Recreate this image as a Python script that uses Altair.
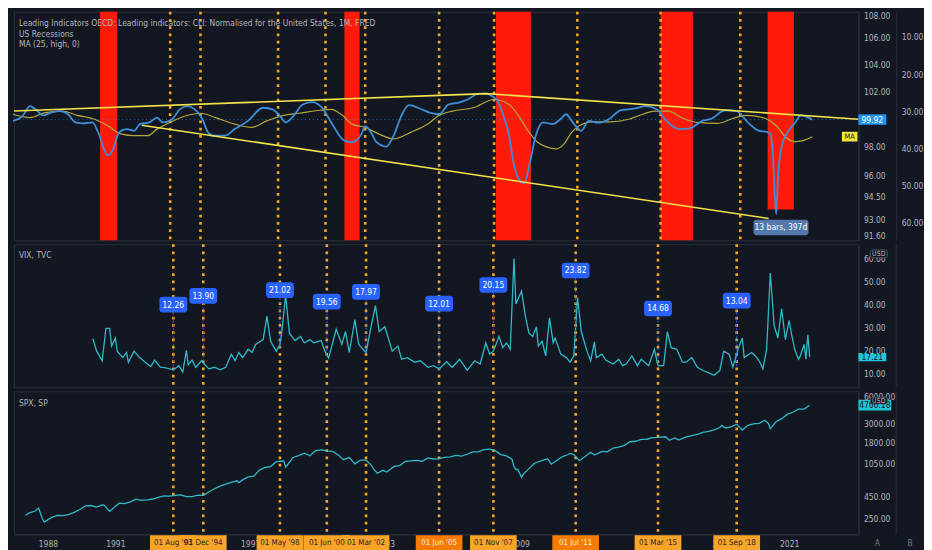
import altair as alt
import pandas as pd

FONT = "Liberation Sans Narrow, DejaVu Sans Condensed, Liberation Sans, sans-serif"
BG = "#131722"
TXT = "#b2b5be"
GRID = "#2a2e39"
RED = "#ff1a0a"
ORANGE = "#f5a623"
BLUE = "#3d8fd9"
MA_C = "#b3a73c"
YEL = "#f2e34b"
TEAL = "#2fb9c8"
LBL = "#2962ff"
CYAN = "#22c4d8"
FS = 8.5

W = 850
H1, H2, H3 = 230, 144, 144

# ---- values ----
cli_dates = ["1986-09", "1987-02", "1987-06", "1987-09", "1988-01", "1988-05", "1988-10", "1989-02",
             "1989-06", "1989-10", "1990-03", "1990-06", "1990-11", "1991-02", "1991-05", "1991-09",
             "1992-01", "1992-04", "1992-09", "1993-01", "1993-04", "1993-09", "1994-01", "1994-05",
             "1994-09", "1995-01", "1995-04", "1995-07", "1996-01", "1996-06", "1997-01", "1997-09",
             "1998-02", "1998-06", "1998-09", "1999-01", "1999-06", "1999-11", "2000-04", "2000-09",
             "2001-02", "2001-04", "2001-08", "2002-01", "2002-03", "2002-06", "2002-09", "2003-02",
             "2003-06", "2003-10", "2004-02", "2004-08", "2005-01", "2005-06", "2005-11", "2006-04",
             "2006-09", "2007-03", "2007-07", "2007-10", "2008-01", "2008-04", "2008-07", "2008-09",
             "2009-01", "2009-03", "2009-06", "2009-09", "2010-01", "2010-06", "2010-10", "2011-01",
             "2011-04", "2011-06", "2011-09", "2012-01", "2012-06", "2012-11", "2013-06", "2014-01",
             "2014-07", "2015-01", "2015-06", "2016-01", "2016-06", "2017-01", "2017-06", "2018-01",
             "2018-07", "2019-01", "2019-07", "2019-11", "2020-01", "2020-02", "2020-04", "2020-05",
             "2020-07", "2020-10", "2021-02", "2021-05", "2021-09", "2021-11"]
cli_vals = [99.83, 100.18, 100.90, 100.66, 100.23, 100.43, 100.54, 100.31,
            99.72, 99.65, 99.72, 99.01, 97.38, 97.84, 99.01, 99.24,
            99.12, 99.60, 99.72, 100.07, 99.72, 99.95, 100.66, 100.90,
            100.66, 99.95, 99.01, 98.77, 98.77, 99.24, 99.83, 100.78,
            100.66, 100.18, 99.72, 100.18, 101.02, 101.19, 100.80, 99.72,
            98.66, 98.42, 98.31, 98.90, 99.45, 99.01, 98.31, 98.00,
            98.77, 100.18, 100.97, 100.71, 100.43, 100.31, 101.02, 101.14,
            101.38, 101.81, 101.81, 101.62, 101.26, 100.18, 98.77, 97.03,
            95.57, 95.45, 96.92, 98.77, 99.72, 99.60, 99.95, 100.31,
            99.83, 99.48, 99.12, 99.83, 99.70, 99.90, 100.60, 100.71,
            100.90, 100.66, 99.83, 99.24, 99.29, 99.83, 100.00, 100.60,
            100.55, 99.72, 99.12, 99.05, 98.90, 97.84, 93.33, 96.02,
            98.07, 99.01, 99.72, 100.23, 100.07, 99.92]

ma_dates = ["1986-09", "1987-06", "1988-02", "1988-11", "1989-07", "1990-04", "1990-11", "1991-06",
            "1992-01", "1992-08", "1993-01", "1993-08", "1994-04", "1994-12", "1995-08", "1996-06",
            "1997-03", "1997-11", "1998-08", "1999-04", "2000-03", "2000-09", "2001-03", "2001-08",
            "2002-03", "2002-10", "2003-06", "2004-03", "2004-12", "2005-06", "2006-01", "2006-12",
            "2007-11", "2008-07", "2008-12", "2009-05", "2009-10", "2010-03", "2010-08", "2010-12",
            "2011-04", "2011-08", "2012-03", "2012-12", "2013-10", "2014-03", "2014-12", "2015-07",
            "2016-03", "2016-10", "2017-09", "2018-05", "2018-12", "2019-09", "2020-04", "2020-09",
            "2021-02", "2021-06", "2021-11"]
ma_vals = [100.31, 100.07, 100.43, 100.54, 100.23, 99.95, 99.48, 98.90,
           98.77, 98.77, 99.24, 99.72, 100.18, 100.38, 100.07, 99.60,
           99.36, 99.83, 100.23, 100.38, 100.60, 100.66, 100.23, 99.60,
           99.36, 98.90, 98.54, 99.01, 99.60, 100.23, 100.54, 100.78,
           101.38, 101.02, 100.18, 99.12, 98.31, 97.96, 97.84, 98.19,
           99.01, 99.48, 99.76, 99.76, 99.95, 100.18, 100.54, 100.54,
           100.00, 99.72, 99.65, 100.00, 100.23, 100.07, 99.48, 98.66,
           98.35, 98.42, 98.70]

vix_dates = ["1990-01", "1990-03", "1990-06", "1990-08", "1990-10", "1990-11", "1991-01", "1991-02",
             "1991-05", "1991-07", "1991-08", "1991-11", "1992-02", "1992-05", "1992-08", "1992-10",
             "1993-01", "1993-04", "1993-08", "1993-11", "1994-01", "1994-03", "1994-04", "1994-06",
             "1994-08", "1994-11", "1995-03", "1995-06", "1995-09", "1995-12", "1996-03", "1996-05",
             "1996-07", "1996-09", "1996-12", "1997-02", "1997-04", "1997-08", "1997-10", "1997-12",
             "1998-03", "1998-05", "1998-06", "1998-08", "1998-10", "1999-01", "1999-04", "1999-06",
             "1999-09", "1999-11", "2000-03", "2000-05", "2000-07", "2000-11", "2001-02", "2001-04",
             "2001-06", "2001-09", "2001-11", "2002-03", "2002-06", "2002-08", "2002-10", "2003-01",
             "2003-05", "2003-08", "2003-10", "2004-01", "2004-05", "2004-08", "2004-12", "2005-03",
             "2005-06", "2005-10", "2006-01", "2006-05", "2006-09", "2007-01", "2007-04", "2007-07",
             "2007-09", "2007-11", "2008-02", "2008-04", "2008-06", "2008-08", "2008-10", "2008-11",
             "2009-02", "2009-04", "2009-06", "2009-08", "2009-10", "2009-11", "2010-01", "2010-03",
             "2010-05", "2010-07", "2010-08", "2010-11", "2011-02", "2011-04", "2011-06", "2011-08",
             "2011-10", "2012-01", "2012-03", "2012-05", "2012-06", "2012-09", "2012-11", "2013-03",
             "2013-06", "2013-08", "2013-10", "2014-01", "2014-04", "2014-06", "2014-10", "2015-01",
             "2015-03", "2015-06", "2015-08", "2015-10", "2016-01", "2016-04", "2016-06", "2016-09",
             "2016-12", "2017-03", "2017-07", "2017-09", "2017-12", "2018-02", "2018-05", "2018-07",
             "2018-10", "2018-12", "2019-01", "2019-05", "2019-07", "2019-09", "2019-11", "2020-01",
             "2020-03", "2020-05", "2020-07", "2020-09", "2020-11", "2021-01", "2021-02", "2021-04",
             "2021-06", "2021-07", "2021-09", "2021-10", "2021-11", "2021-12"]
vix_vals = [25.2, 19.9, 15.6, 29.7, 29.7, 22.0, 25.5, 19.8,
            17.0, 19.2, 15.0, 19.8, 17.0, 15.0, 13.1, 15.9,
            12.8, 12.5, 11.7, 13.5, 10.7, 20.1, 13.9, 15.9,
            12.8, 15.6, 12.1, 12.8, 11.7, 12.8, 18.5, 15.6,
            19.2, 17.0, 20.6, 19.2, 22.7, 24.8, 35.0, 24.1,
            19.8, 22.7, 28.3, 44.1, 27.6, 24.4, 26.2, 23.4,
            24.8, 23.4, 24.4, 19.8, 16.8, 29.3, 22.7, 28.3,
            19.2, 33.5, 22.7, 19.2, 31.9, 39.6, 28.3, 30.4,
            19.8, 22.0, 16.3, 17.0, 15.0, 15.6, 12.8, 13.5,
            12.1, 15.2, 12.8, 16.3, 11.4, 15.6, 14.2, 23.4,
            18.5, 19.8, 26.2, 21.3, 23.4, 20.6, 60.0, 40.3,
            45.9, 35.4, 27.6, 26.2, 30.4, 22.0, 24.1, 17.7,
            34.2, 23.4, 25.5, 18.5, 17.0, 15.0, 17.7, 43.1,
            28.3, 19.8, 15.6, 23.8, 17.0, 18.5, 15.9, 14.2,
            16.3, 13.5, 14.2, 17.7, 13.5, 16.3, 13.5, 20.6,
            13.5, 13.5, 28.3, 21.3, 20.6, 15.0, 15.0, 17.0,
            12.8, 11.4, 10.0, 9.3, 11.4, 19.8, 18.5, 12.8,
            21.3, 25.5, 17.0, 19.2, 17.7, 15.6, 12.1, 20.6,
            53.7, 31.1, 25.5, 38.2, 24.8, 33.2, 28.3, 20.6,
            16.3, 17.7, 22.7, 16.3, 26.9, 17.2]

spx_dates = ["1987-01", "1987-03", "1987-06", "1987-08", "1987-10", "1987-11", "1988-03", "1988-06",
             "1988-09", "1988-12", "1989-03", "1989-06", "1989-09", "1989-12", "1990-03", "1990-06",
             "1990-07", "1990-10", "1990-12", "1991-03", "1991-06", "1991-09", "1991-12", "1992-03",
             "1992-06", "1992-09", "1992-12", "1993-03", "1993-06", "1993-09", "1993-12", "1994-03",
             "1994-06", "1994-09", "1994-12", "1995-03", "1995-06", "1995-09", "1995-12", "1996-03",
             "1996-06", "1996-07", "1996-09", "1996-12", "1997-03", "1997-06", "1997-09", "1997-12",
             "1998-03", "1998-07", "1998-08", "1998-09", "1998-12", "1999-03", "1999-06", "1999-09",
             "1999-12", "2000-03", "2000-06", "2000-09", "2000-12", "2001-03", "2001-06", "2001-09",
             "2001-12", "2002-03", "2002-06", "2002-07", "2002-09", "2002-12", "2003-02", "2003-06",
             "2003-09", "2003-12", "2004-03", "2004-06", "2004-09", "2004-12", "2005-03", "2005-06",
             "2005-09", "2005-12", "2006-03", "2006-06", "2006-09", "2006-12", "2007-03", "2007-06",
             "2007-09", "2007-12", "2008-03", "2008-06", "2008-09", "2008-10", "2008-11", "2008-12",
             "2009-02", "2009-03", "2009-06", "2009-09", "2009-12", "2010-03", "2010-04", "2010-06",
             "2010-09", "2010-12", "2011-03", "2011-04", "2011-06", "2011-09", "2011-12", "2012-03",
             "2012-05", "2012-09", "2012-12", "2013-03", "2013-06", "2013-09", "2013-12", "2014-03",
             "2014-06", "2014-09", "2014-12", "2015-03", "2015-07", "2015-09", "2015-12", "2016-02",
             "2016-06", "2016-09", "2016-12", "2017-03", "2017-06", "2017-09", "2017-12", "2018-01",
             "2018-03", "2018-06", "2018-09", "2018-12", "2019-03", "2019-06", "2019-09", "2019-12",
             "2020-02", "2020-03", "2020-06", "2020-09", "2020-12", "2021-03", "2021-06", "2021-09",
             "2021-12"]
spx_vals = [274, 291, 304, 330, 252, 230, 259, 273,
            272, 278, 295, 318, 349, 353, 339, 358,
            356, 304, 330, 375, 371, 388, 417, 404,
            408, 418, 436, 452, 451, 459, 466, 446,
            444, 463, 459, 501, 545, 584, 616, 645,
            671, 640, 687, 741, 757, 885, 947, 970,
            1102, 1121, 957, 1017, 1229, 1286, 1373, 1283,
            1469, 1499, 1455, 1437, 1320, 1160, 1224, 1041,
            1148, 1147, 990, 912, 815, 880, 841, 975,
            996, 1112, 1126, 1141, 1115, 1212, 1181, 1191,
            1229, 1248, 1295, 1270, 1336, 1418, 1421, 1503,
            1527, 1468, 1323, 1280, 1166, 968, 896, 903,
            735, 798, 919, 1057, 1115, 1169, 1187, 1031,
            1141, 1258, 1326, 1364, 1321, 1131, 1258, 1408,
            1310, 1441, 1426, 1569, 1606, 1682, 1848, 1872,
            1960, 1972, 2059, 2068, 2104, 1920, 2044, 1932,
            2099, 2168, 2239, 2363, 2423, 2519, 2674, 2824,
            2641, 2718, 2914, 2507, 2834, 2942, 2977, 3231,
            2954, 2585, 3100, 3363, 3756, 3973, 4298, 4308,
            4766]

rec_start = ["1990-07-01", "2001-04-01", "2007-12-01", "2015-03-01", "2019-11-15"]
rec_end = ["1991-04-01", "2001-12-01", "2009-06-15", "2016-08-01", "2021-01-10"]
rec_top = [3.2, 3.2, 3.2, 3.2, 3.2]
rec_bottom = [64.8, 64.8, 64.8, 64.8, 56.5]

mark_dates = ["1994-12-01", "1993-08-01", "1998-05-01", "2000-06-01", "2002-03-01",
              "2005-06-01", "2007-11-01", "2011-07-01", "2015-03-01", "2018-09-01"]
mark_texts = ["01 Dec '94", "01 Aug '93", "01 May '98", "01 Jun '00", "01 Mar '02",
              "01 Jun '05", "01 Nov '07", "01 Jul '11", "01 Mar '15", "01 Sep '18"]
mark_kind = ["light", "light", "light", "light", "light", "dark", "light", "dark", "light", "light"]

vix_lab_dates = ["1993-08-01", "1994-12-01", "1998-05-01", "2000-06-01", "2002-03-01",
                 "2005-06-01", "2007-11-01", "2011-07-01", "2015-03-01", "2018-09-01"]
vix_lab_vals = [12.26, 13.90, 21.02, 19.56, 17.97, 12.01, 20.15, 23.82, 14.68, 13.04]
vix_lab_pos = [40.0, 43.8, 46.3, 41.3, 45.5, 40.4, 48.5, 54.8, 38.3, 41.7]

trend_dates = ["1986-09-16", "2007-07-01", "2023-11-13", "1992-05-01", "2019-12-01"]
trend_vals = [100.54, 101.81, 99.95, 99.52, 93.05]
trend_seg = ["upper", "upper", "upper", "lower", "lower"]

# year labels that are not hidden behind the orange date labels
year_ticks = [1988, 1991, 1997, 2003, 2009, 2018, 2021]
cli_ticks = [91.6, 93, 94.5, 96, 98, 102, 104, 106, 108]
rec_ticks = [10, 20, 30, 40, 50, 60]
vix_ticks = [10, 20, 30, 40, 50, 60]
spx_ticks = [250, 450, 1050, 1800, 3000, 6000]


def dated(dates, vals):
    return pd.DataFrame({"date": [d if len(d) > 7 else d + "-01" for d in dates], "v": vals})


cli = dated(cli_dates, cli_vals)
ma = dated(ma_dates, ma_vals)
vix = dated(vix_dates, vix_vals)
spx = dated(spx_dates, spx_vals)
rec = pd.DataFrame({"start": rec_start, "end": rec_end, "top": rec_top, "bottom": rec_bottom})
dots = pd.DataFrame({"date": mark_dates, "txt": mark_texts, "kind": mark_kind})
vlab = pd.DataFrame({"date": vix_lab_dates, "val": vix_lab_vals, "pos": vix_lab_pos,
                     "txt": [f"{v:.2f}" for v in vix_lab_vals]})
trend = pd.DataFrame({"date": trend_dates, "v": trend_vals, "seg": trend_seg})
ONE = pd.DataFrame({"k": [0]})

XSCALE = alt.Scale(type="utc", domain=[alt.DateTime(year=1986, month=9, date=16, utc=True),
                                       alt.DateTime(year=2023, month=11, date=13, utc=True)])
XAXIS = alt.Axis(values=[alt.DateTime(year=y, month=1, date=1, utc=True) for y in year_ticks],
                 format="%Y", labelColor=TXT, labelFont=FONT, labelFontSize=FS, ticks=False,
                 grid=False, domainColor=GRID, labelPadding=5, labelFlush=False, title=None)


def xt(field="date", axis=None):
    return alt.X(f"{field}:T", scale=XSCALE, axis=axis, title=None)


def yax(ticks, offset=0, flush=False):
    return alt.Axis(orient="right", values=ticks, format=".2f", title=None, offset=offset,
                    grid=False, ticks=False, domainColor=GRID, labelColor=TXT,
                    labelFont=FONT, labelFontSize=FS, labelPadding=5, labelFlush=flush)


CLI_SCALE = alt.Scale(type="log", domain=[91.6, 108], nice=False)
VIX_SCALE = alt.Scale(domain=[4.1, 66.2], nice=False, zero=False)
SPX_SCALE = alt.Scale(type="log", domain=[167, 6850], nice=False)


def yc(f):
    return alt.Y(f"{f}:Q", scale=CLI_SCALE, axis=yax(cli_ticks, flush=True))


def yv(f):
    return alt.Y(f"{f}:Q", scale=VIX_SCALE, axis=yax(vix_ticks))


def ys(f):
    return alt.Y(f"{f}:Q", scale=SPX_SCALE, axis=yax(spx_ticks))


def note(txt, x, y, size=FS, color=TXT, align="left"):
    return alt.Chart(ONE).mark_text(text=txt, align=align, baseline="middle", fontSize=size,
                                    color=color, font=FONT).encode(x=alt.value(x), y=alt.value(y))


def dotted(axis=None):
    return alt.Chart(dots).mark_rule(color=ORANGE, strokeDash=[2.7, 4.6], strokeWidth=2.6).encode(
        x=xt(axis=axis))


# ---- top panel: CLI with recessions ----
rec_bars = alt.Chart(rec).mark_rect(color=RED).encode(
    x=xt("start"), x2="end:T",
    y=alt.Y("top:Q", scale=alt.Scale(domain=[3.2, 64.8], reverse=True, nice=False, zero=False),
            axis=yax(rec_ticks, offset=38)),
    y2="bottom:Q")

cli_layer = alt.layer(
    dotted(),
    alt.Chart(pd.DataFrame({"v": [99.92]})).mark_rule(color="#2196f3", strokeDash=[1, 3], opacity=0.7).encode(
        y=yc("v")),
    alt.Chart(ma).mark_line(color=MA_C, strokeWidth=1.2, interpolate="monotone").encode(x=xt(), y=yc("v")),
    alt.Chart(cli).mark_line(color=BLUE, strokeWidth=1.8, interpolate="monotone").encode(x=xt(), y=yc("v")),
    alt.Chart(trend).mark_line(color=YEL, strokeWidth=1.6).encode(x=xt(), y=yc("v"), detail="seg:N"),
    alt.Chart(pd.DataFrame({"a": ["2019-04-01"], "b": ["2021-09-01"], "lo": [91.93], "hi": [92.97]}))
    .mark_rect(color="#5477ad", cornerRadius=3).encode(x=xt("a"), x2="b:T", y=yc("lo"), y2="hi:Q"),
    alt.Chart(pd.DataFrame({"date": ["2020-06-15"], "v": [92.45], "t": ["13 bars, 397d"]}))
    .mark_text(color="white", fontSize=FS, font=FONT).encode(x=xt(), y=yc("v"), text="t:N"),
    alt.Chart(pd.DataFrame({"a": ["2023-02-20"], "b": ["2023-10-28"], "lo": [98.36], "hi": [99.05]}))
    .mark_rect(color="#f5e63b").encode(x=xt("a"), x2="b:T", y=yc("lo"), y2="hi:Q"),
    alt.Chart(pd.DataFrame({"date": ["2023-06-24"], "v": [98.7], "t": ["MA"]}))
    .mark_text(color="#131722", fontSize=7.5, font=FONT).encode(x=xt(), y=yc("v"), text="t:N"),
    alt.Chart(pd.DataFrame({"lo": [99.55], "hi": [100.3]})).mark_rect(color="#2196f3").encode(
        x=alt.value(W), x2=alt.value(W + 28), y=yc("lo"), y2="hi:Q"),
    alt.Chart(pd.DataFrame({"v": [99.92], "t": ["99.92"]})).mark_text(color="white", fontSize=FS, font=FONT)
    .encode(x=alt.value(W + 14), y=yc("v"), text="t:N"),
    note("Leading Indicators OECD: Leading indicators: CLI: Normalised for the United States, 1M, FRED", 5, 11),
    note("US Recessions", 5, 22),
    note("MA (25, high, 0)", 5, 32),
)

top = alt.layer(rec_bars, cli_layer).resolve_scale(y="independent").properties(width=W, height=H1)

# ---- middle panel: VIX ----
vix_panel = alt.layer(
    dotted(),
    alt.Chart(vix).mark_line(color=TEAL, strokeWidth=1.3).encode(x=xt(), y=yv("v")),
    alt.Chart(vlab).transform_calculate(lo="datum.pos - 3.4").mark_rule(
        color=LBL, strokeDash=[2, 2], strokeWidth=1).encode(x=xt(), y=yv("lo"), y2="val:Q"),
    alt.Chart(vlab).transform_calculate(lo="datum.pos - 3.4", hi="datum.pos + 3.4").mark_bar(
        size=28, cornerRadius=3, color=LBL).encode(x=xt(), y=yv("lo"), y2="hi:Q"),
    alt.Chart(vlab).mark_text(color="white", fontSize=FS, font=FONT).encode(x=xt(), y=yv("pos"), text="txt:N"),
    alt.Chart(pd.DataFrame({"lo": [15.4], "hi": [19.0]})).mark_rect(color=CYAN).encode(
        x=alt.value(W), x2=alt.value(W + 28), y=yv("lo"), y2="hi:Q"),
    alt.Chart(pd.DataFrame({"v": [17.21], "t": ["17.21"]})).mark_text(color="#131722", fontSize=FS, font=FONT)
    .encode(x=alt.value(W + 14), y=yv("v"), text="t:N"),
    alt.Chart(pd.DataFrame({"lo": [60.3], "hi": [63.7]})).mark_rect(
        fill=BG, stroke="#50535e", cornerRadius=2).encode(
        x=alt.value(W + 12), x2=alt.value(W + 29), y=yv("lo"), y2="hi:Q"),
    alt.Chart(pd.DataFrame({"v": [62.0], "t": ["USD"]})).mark_text(color=TXT, fontSize=7, font=FONT)
    .encode(x=alt.value(W + 20.5), y=yv("v"), text="t:N"),
    alt.Chart(ONE).mark_rule(color=GRID).encode(x=alt.value(W + 38), y=alt.value(0), y2=alt.value(H2)),
    note("VIX, TVC", 5, 11),
).properties(width=W, height=H2)

# ---- bottom panel: SPX with the date labels of the x axis ----
spx_panel = alt.layer(
    dotted(XAXIS),
    alt.Chart(spx).mark_line(color=TEAL, strokeWidth=1.3).encode(x=xt(axis=XAXIS), y=ys("v")),
    alt.Chart(pd.DataFrame({"lo": [4150], "hi": [5480]})).mark_rect(color=CYAN).encode(
        x=alt.value(W), x2=alt.value(W + 33), y=ys("lo"), y2="hi:Q"),
    alt.Chart(pd.DataFrame({"v": [4766], "t": ["4766.18"]})).mark_text(color="#131722", fontSize=FS, font=FONT)
    .encode(x=alt.value(W + 16.5), y=ys("v"), text="t:N"),
    alt.Chart(pd.DataFrame({"lo": [4925], "hi": [5870]})).mark_rect(
        fill=BG, stroke="#50535e", cornerRadius=2).encode(
        x=alt.value(W + 12), x2=alt.value(W + 29), y=ys("lo"), y2="hi:Q"),
    alt.Chart(pd.DataFrame({"v": [5377], "t": ["USD"]})).mark_text(color=TXT, fontSize=7, font=FONT)
    .encode(x=alt.value(W + 20.5), y=ys("v"), text="t:N"),
    alt.Chart(ONE).mark_rule(color=GRID).encode(x=alt.value(W + 38), y=alt.value(0), y2=alt.value(H3)),
    alt.Chart(dots).mark_bar(size=47).encode(
        x=xt(axis=XAXIS), y=alt.value(H3 + 1), y2=alt.value(H3 + 16),
        color=alt.Color("kind:N", scale=alt.Scale(domain=["light", "dark"], range=["#f7a427", "#f57c00"]),
                        legend=None)),
    alt.Chart(dots).mark_text(fontSize=8, font=FONT, baseline="middle").encode(
        x=xt(axis=XAXIS), y=alt.value(H3 + 8.5), text="txt:N",
        color=alt.Color("kind:N", scale=alt.Scale(domain=["light", "dark"], range=["#1e222d", "#fff3e0"]),
                        legend=None)),
    note("A", W + 19, H3 + 9, color="#787b86", align="center"),
    note("B", W + 52, H3 + 9, color="#787b86", align="center"),
    note("SPX, SP", 5, 12),
).resolve_scale(color="independent").properties(width=W, height=H3)

chart = alt.vconcat(top, vix_panel, spx_panel, spacing=0).properties(
    background=BG, padding={"left": 0, "top": 0, "right": 0, "bottom": 0}
).configure(padding={"left": 0, "top": 0, "right": 0, "bottom": 0}
).configure_view(stroke=GRID, strokeWidth=1).configure_axis(labelFont=FONT)

chart.save("out.html", embed_options={"renderer": "svg", "actions": False})
